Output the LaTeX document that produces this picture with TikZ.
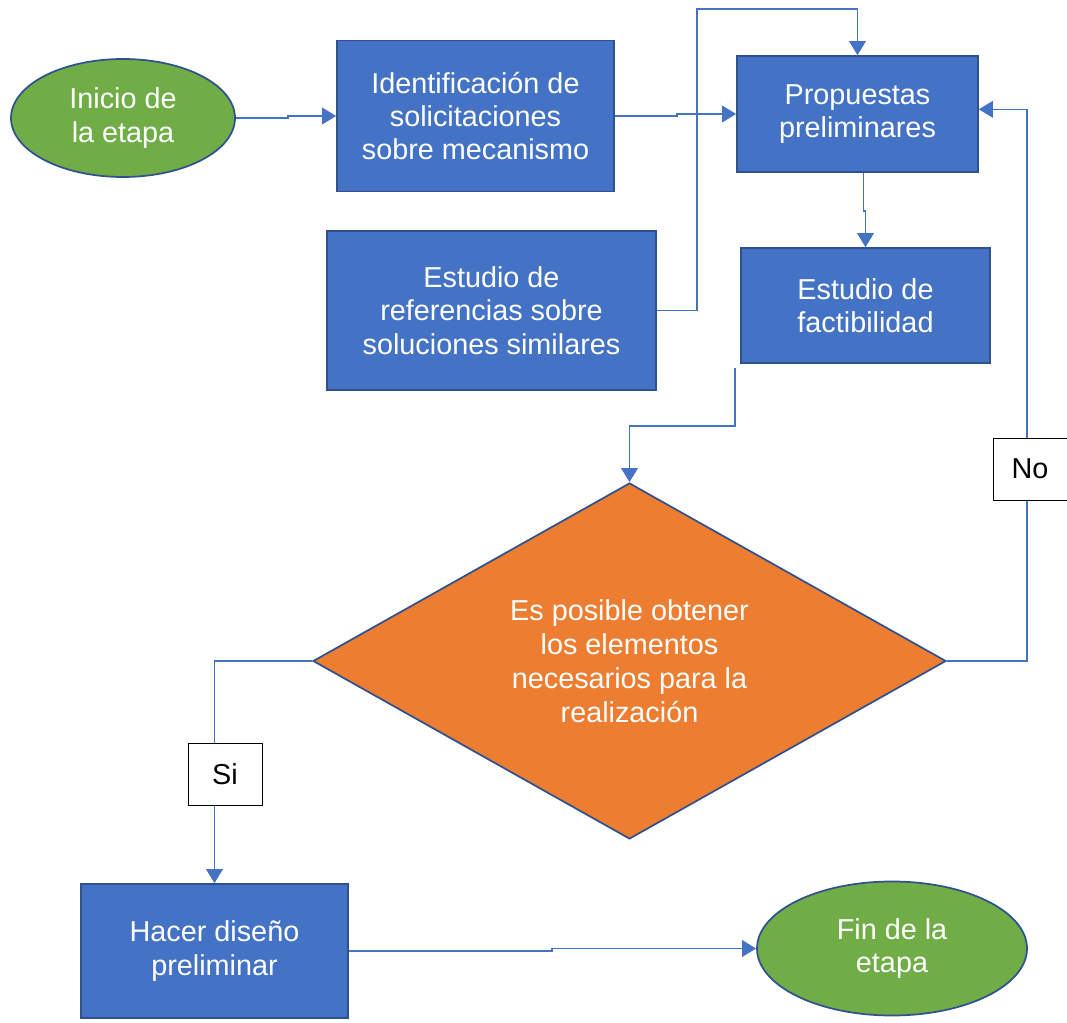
\documentclass[tikz,border=0pt]{standalone}
\usepackage{fontspec}
\setmainfont{Liberation Sans}
\usepackage{tikz}
\usetikzlibrary{shapes.geometric}
\usetikzlibrary{arrows.meta}
\definecolor{azul}{HTML}{4472C4}
\definecolor{azulborde}{HTML}{2F528F}
\definecolor{verde}{HTML}{70AD47}
\definecolor{naranja}{HTML}{ED7D31}

\begin{document}
\begin{tikzpicture}[x=0.75pt,y=-0.75pt]
\tikzset{blue box/.style args={#1x#2}{
    rectangle, draw=azulborde, fill=azul, line width=1.3pt,
    text=white, align=center, inner sep=0pt,
    minimum width=#1, minimum height=#2,
    font=\fontsize{21.6}{25}\selectfont
  },
  green ellipse/.style args={#1x#2}{
    ellipse, draw=azulborde, fill=verde, line width=1.3pt,
    text=white, align=center, inner sep=0pt,
    minimum width=#1, minimum height=#2,
    font=\fontsize{21.6}{25}\selectfont
  },
  orange diamond/.style={
    diamond, draw=azulborde, fill=naranja, line width=1.3pt,
    text=white, align=center, inner sep=0pt, shape aspect=1.78,
    minimum width=474.75pt, minimum height=267pt,
    font=\fontsize{21.6}{25.5}\selectfont
  },
  label box/.style={
    rectangle, draw=black, fill=white, line width=0.75pt,
    minimum width=55.5pt, minimum height=46.5pt, inner sep=0pt,
    font=\fontsize{21.6}{25}\selectfont
  },
  flow/.style={draw=azul, line width=1pt},
  flow arrow/.style={flow, -{Triangle[length=10.5pt,width=12.5pt]}}
}
\useasboundingbox (0,0) rectangle (1067,1023);

% nodos
\node[green ellipse=168ptx88.5pt] (inicio) at (123,118) {Inicio de\\la etapa};
\node[blue box=207.75ptx113.25pt] (ident) at (475.5,116) {Identificación de\\solicitaciones\\sobre mecanismo};
\node[blue box=180.75ptx87pt] (prop) at (857.5,114) {Propuestas\\preliminares};
\node[blue box=246.75ptx119.25pt] (ref) at (491.5,310.5) {Estudio de\\referencias sobre\\soluciones similares};
\node[blue box=186.75ptx86.25pt] (fact) at (865.5,305.5) {Estudio de\\factibilidad};
\node[orange diamond] (dec) at (629.5,661) {Es posible obtener\\los elementos\\necesarios para la\\realización};
\node[label box] (si) at (225,774) {Si};
\node[label box] (no) at (1030,469) {No};
\node[blue box=200.25ptx100.5pt] (hacer) at (214.5,951) {Hacer diseño\\preliminar};
\node[green ellipse=202.5ptx100.5pt] (fin) at (892,948.5) {Fin de la\\etapa};

% conectores
\coordinate (arriba) at (697,9);
\draw[flow arrow] (inicio.east) -- ++(52,0) |- (ident.west);
\draw[flow arrow] (ident.east) -- ++(62,0) |- (prop.west);
\draw[flow arrow] (ref.east) -| (arriba) -| (prop.north);
\draw[flow arrow] ([xshift=4.5pt]prop.south) -- ++(0,38) -| (fact.north);
\draw[flow arrow] ([shift={(-5,4)}]fact.south west) -- ++(0,58) -| (dec.north);
\draw[flow] (dec.west) -| (si.north -| hacer.north);
\draw[flow arrow] (si.south -| hacer.north) -- (hacer.north);
\draw[flow] (dec.east) -- ++(80,0) coordinate (giro) -- (giro |- no.south);
\draw[flow arrow] (giro |- no.north) |- ([yshift=3.5pt]prop.east);
\draw[flow arrow] (hacer.east) -- ++(203,0) |- (fin.west);
\end{tikzpicture}
\end{document}
